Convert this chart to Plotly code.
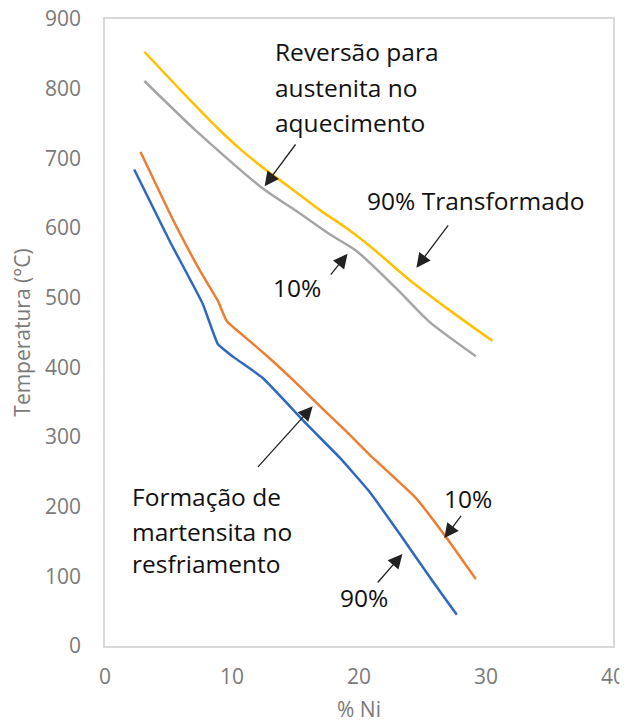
import plotly.graph_objects as go

# Data
heat90_x = [3.1, 6.0, 9.0, 10.6, 12.7, 14.5, 16.9, 19.0, 20.8, 24.2, 26.9, 30.5]
heat90_y = [853, 797, 741, 714, 683, 659, 626, 600, 575, 522, 485, 438]

heat10_x = [3.1, 7.2, 12.4, 15.1, 17.7, 19.8, 22.9, 25.5, 29.2]
heat10_y = [811, 739, 657, 624, 591, 567, 514, 466, 416]

cool10_x = [2.8, 5.4, 7.5, 8.9, 9.6, 11.7, 13.2, 14.8, 17.1, 19.0, 20.8, 24.5, 26.9, 29.2]
cool10_y = [709, 610, 538, 495, 466, 433, 409, 382, 341, 308, 275, 212, 155, 96]

cool90_x = [2.3, 5.1, 7.7, 8.9, 10.1, 12.4, 15.9, 18.5, 20.8, 23.2, 25.8, 27.7]
cool90_y = [684, 581, 491, 433, 415, 385, 318, 270, 222, 161, 93, 45]

x_ticks = [0, 10, 20, 30, 40]
y_ticks = [0, 100, 200, 300, 400, 500, 600, 700, 800, 900]

FONT = "Open Sans"
TICK_COLOR = "#7a7a7a"

fig = go.Figure()
series = [
    (heat90_x, heat90_y, "#FFC000", "90% aquecimento", 0.9),
    (heat10_x, heat10_y, "#A5A5A5", "10% aquecimento", 0.7),
    (cool10_x, cool10_y, "#ED7D31", "10% resfriamento", 0.4),
    (cool90_x, cool90_y, "#2F68C0", "90% resfriamento", 0.4),
]
for xs, ys, col, name, sm in series:
    fig.add_trace(go.Scatter(x=xs, y=ys, mode="lines", name=name,
                             line=dict(color=col, width=2.5, shape="spline", smoothing=sm)))

ann_font = dict(family=FONT, size=24.5, color="#111111")

def text(x, y, s, anchor="left"):
    fig.add_annotation(x=x, y=y, xref="x", yref="y", text=s, showarrow=False,
                       xanchor=anchor, yanchor="middle", font=ann_font)

def arrow(hx, hy, tx, ty):
    fig.add_annotation(x=hx, y=hy, ax=tx, ay=ty, xref="x", yref="y", axref="x", ayref="y",
                       text="", showarrow=True, arrowhead=2, arrowsize=2.2,
                       arrowwidth=1.3, arrowcolor="#222222", standoff=0, startstandoff=0)

text(13.2, 853, "Reversão para")
text(13.2, 801, "austenita no")
text(13.2, 752, "aquecimento")
arrow(12.57, 660, 15.09, 722)

text(20.5, 640, "90% Transformado")
arrow(24.52, 543, 27.11, 606)

text(15.09, 514, "10%", anchor="center")
arrow(19.1, 563, 17.68, 531)

text(1.96, 215, "Formação de")
text(1.96, 165, "martensita no")
text(1.96, 118, "resfriamento")
arrow(16.35, 344, 11.94, 255)

text(28.6, 212, "10%", anchor="center")
arrow(26.72, 155, 28.13, 189)

text(20.43, 69, "90%", anchor="center")
arrow(23.42, 132, 21.37, 89)

# the source image is cropped just right of the "4" of the last x tick label
fig.add_shape(type="rect", xref="paper", yref="paper", x0=1.0125, x1=1.08, y0=-0.12, y1=-0.01,
              fillcolor="white", line=dict(width=0), layer="above")

fig.update_layout(
    width=634, height=722,
    margin=dict(l=97, r=29, t=11, b=84),
    paper_bgcolor="white", plot_bgcolor="white",
    showlegend=False,
    font=dict(family=FONT),
)
fig.update_xaxes(range=[0, 40], tickvals=x_ticks, showgrid=False, zeroline=False,
                 automargin=False, ticklabeloverflow="allow",
                 showline=True, mirror=True, linecolor="#d9d9d9", linewidth=1.5,
                 ticks="", ticklabelstandoff=11,
                 tickfont=dict(family=FONT, size=21, color=TICK_COLOR),
                 title=dict(text="% Ni", standoff=13,
                            font=dict(family=FONT, size=21, color=TICK_COLOR)))
fig.update_yaxes(range=[0, 900], tickvals=y_ticks, showgrid=False, zeroline=False,
                 automargin=False, ticklabeloverflow="allow",
                 showline=True, mirror=True, linecolor="#d9d9d9", linewidth=1.5,
                 ticks="", ticklabelstandoff=18,
                 tickfont=dict(family=FONT, size=21, color=TICK_COLOR),
                 title=dict(text="Temperatura (°C)", standoff=10,
                            font=dict(family=FONT, size=21, color=TICK_COLOR)))

fig.write_html("out.html")
